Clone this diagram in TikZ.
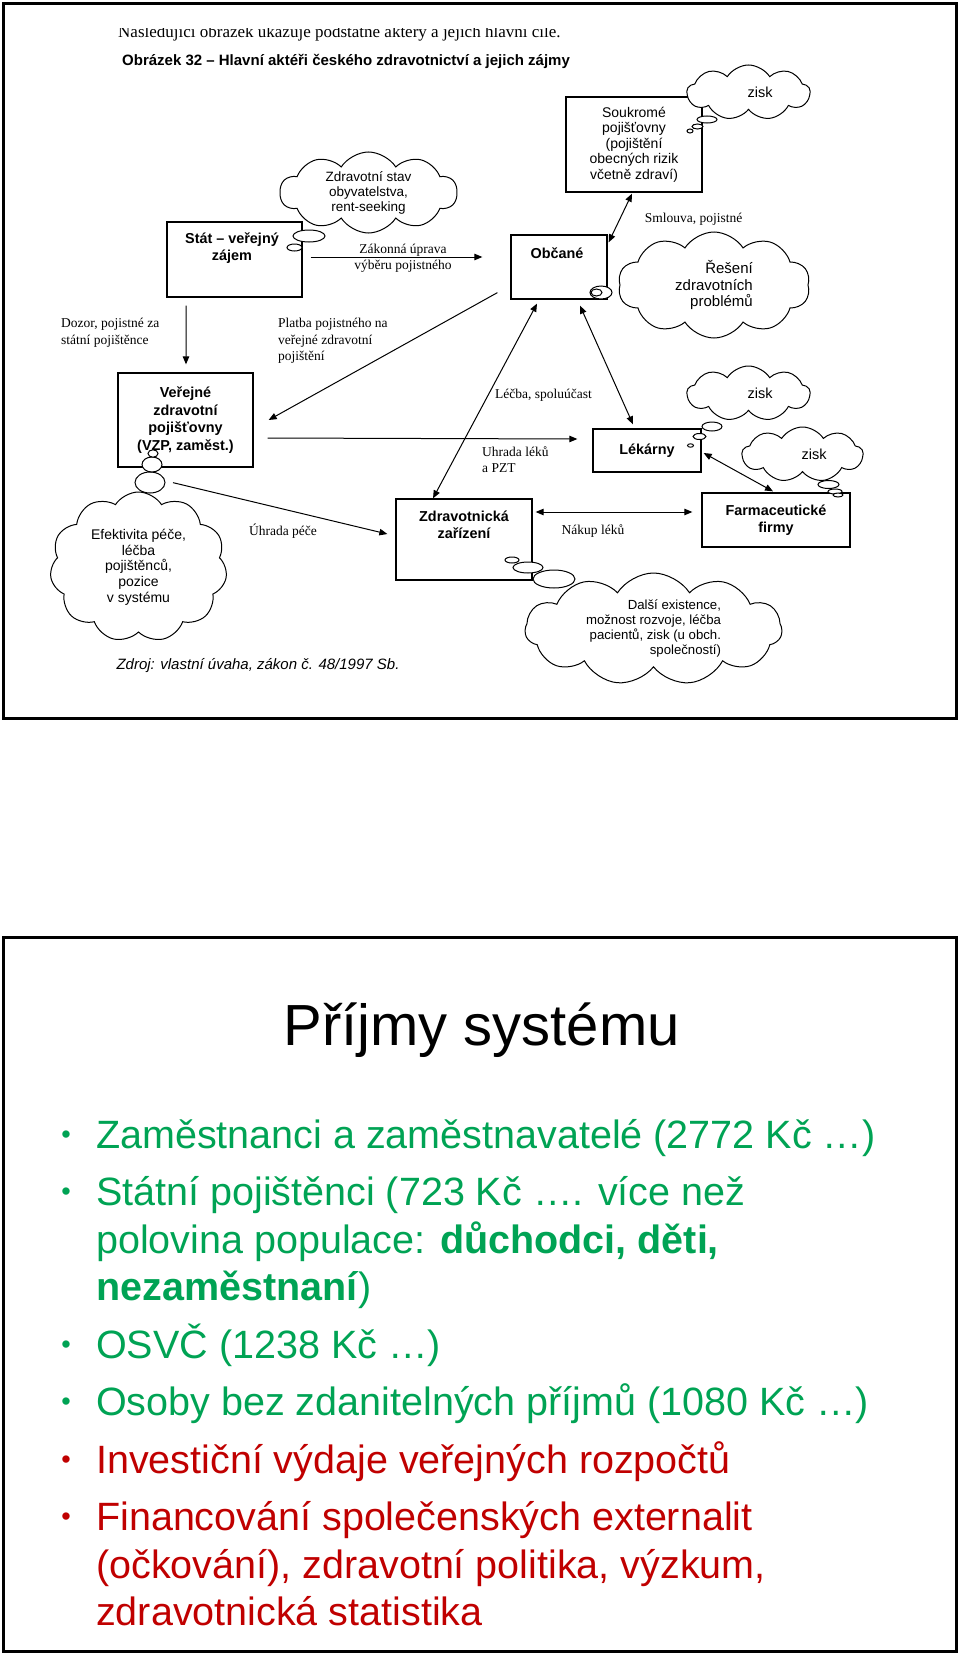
\documentclass[tikz,border=0pt]{standalone}
\usepackage{fontspec}
\setmainfont{Liberation Serif}
\setsansfont{Liberation Sans}
\usetikzlibrary{shapes.symbols,arrows.meta,calc}

\definecolor{slidegreen}{RGB}{0,163,84}
\definecolor{slidered}{RGB}{192,0,0}

\tikzset{
  actor/.style={draw, line width=1.3bp, inner sep=0pt},
  actortext/.style={font=\sffamily\bfseries\fontsize{14.4bp}{17.5bp}\selectfont, align=center, inner sep=0pt},
  think/.style={cloud, draw, fill=white, line width=1bp, cloud puffs=10, cloud puff arc=115,
    cloud ignores aspect, inner sep=0pt, align=center, font=\sffamily\fontsize{13.5bp}{15bp}\selectfont},
  ziskcloud/.style={think, cloud puffs=9, text width=48bp, align=right,
    font=\sffamily\fontsize{14.5bp}{16bp}\selectfont, minimum width=123bp, minimum height=55bp},
  bubble/.style={draw, fill=white, line width=1bp},
  flow/.style={font=\rmfamily\fontsize{13.5bp}{16.5bp}\selectfont, inner sep=0pt},
  arr/.style={-{Triangle[length=8bp,width=6.5bp]}, line width=1bp},
  darr/.style={{Triangle[length=8bp,width=6.5bp]}-{Triangle[length=8bp,width=6.5bp]}, line width=1bp},
  bulletline/.style={font=\sffamily\fontsize{39.5bp}{47.5bp}\selectfont, anchor=base west, inner sep=0pt},
  bulletmark/.style={font=\sffamily\fontsize{27bp}{27bp}\selectfont, anchor=base, inner sep=0pt},
}

\begin{document}
\begin{tikzpicture}[x=1bp, y=-1bp]
\useasboundingbox (0,0) rectangle (960,1654);

% frames of both pages
\draw[line width=3bp] (3.5,3.5) rectangle (956.5,718.5);
\draw[line width=3bp] (3.5,937.5) rectangle (956.5,1651);

% heading of the scanned page
\begin{scope}
  \clip (0,28.5) rectangle (960,50);
  \node[anchor=base west, inner sep=0pt, font=\rmfamily\fontsize{17bp}{20bp}\selectfont] (intro) at (118,37.5)
    {Následující obrázek ukazuje podstatné aktéry a jejich hlavní cíle.};
\end{scope}
\node[anchor=base west, inner sep=0pt, font=\sffamily\bfseries\fontsize{15bp}{18bp}\selectfont] (caption) at (122,66)
  {Obrázek 32 – Hlavní aktéři českého zdravotnictví a jejich zájmy};

% actors
\node[actor, minimum width=135bp, minimum height=75bp] (stat) at (234.5,259.5) {};
\node[actortext] (stattext) at (232,248) {Stát – veřejný\\zájem};
\node[actor, minimum width=96bp, minimum height=64bp] (obcane) at (559,267) {};
\node[actortext] (obcanetext) at (557,253) {Občané};
\node[actor, minimum width=136bp, minimum height=95bp, align=center,
  font=\sffamily\fontsize{14bp}{15.5bp}\selectfont] (soukrome) at (634,144.5)
  {Soukromé\\pojišťovny\\(pojištění\\obecných rizik\\včetně zdraví)};
\node[actor, actortext, minimum width=135bp, minimum height=94bp] (verejne) at (185.5,420)
  {Veřejné\\zdravotní\\pojišťovny\\(VZP, zaměst.)};
\node[actor, actortext, minimum width=108bp, minimum height=43bp] (lekarny) at (647,450.5) {Lékárny};
\node[actor, minimum width=136bp, minimum height=81bp] (zarizeni) at (464,539.5) {};
\node[actortext] (zarizenitext) at (464,525) {Zdravotnická\\zařízení};
\node[actor, actortext, minimum width=148bp, minimum height=54bp] (farma) at (776,520) {Farmaceutické\\firmy};

% interests
\node[think, minimum width=177bp, minimum height=81bp] (stav) at (368.5,192.5)
  {Zdravotní stav\\obyvatelstva,\\rent-seeking};
\node[ziskcloud] (zisktop) at (748.5,92.5) {zisk};
\node[think, minimum width=192bp, minimum height=106bp, align=right,
  font=\sffamily\fontsize{15bp}{16.5bp}\selectfont] (reseni) at (714,285)
  {Řešení\\zdravotních\\problémů};
\node[think, cloud puffs=11, minimum width=177bp, minimum height=150bp,
  font=\sffamily\fontsize{14bp}{15.7bp}\selectfont] (efekt) at (138.5,567)
  {Efektivita péče,\\léčba\\pojištěnců,\\pozice\\v systému};
\node[ziskcloud] (ziskmid) at (748.5,393.5) {zisk};
\node[ziskcloud, minimum width=121bp] (ziskfarma) at (802.5,454.5) {zisk};
\node[think, cloud puffs=11, minimum width=257bp, minimum height=112bp, align=right,
  font=\sffamily\fontsize{13.2bp}{15bp}\selectfont] (dalsi) at (653.5,629)
  {Další existence,\\možnost rozvoje, léčba\\pacientů, zisk (u obch.\\společností)};

% thought bubbles
\draw[bubble] (309,236) ellipse [x radius=16bp, y radius=6bp];
\draw[bubble] (294.5,247.5) ellipse [x radius=7.5bp, y radius=3.5bp];
\draw[bubble] (707,119.5) ellipse [x radius=10bp, y radius=3.5bp];
\draw[bubble] (697.5,126.5) ellipse [x radius=5.5bp, y radius=2.5bp];
\draw[bubble] (690,131) ellipse [x radius=3bp, y radius=2bp];
\draw[bubble] (601,292.5) ellipse [x radius=11bp, y radius=6.5bp];
\draw[bubble] (596.5,292.5) ellipse [x radius=5.5bp, y radius=3.5bp];
\draw[bubble] (150,482.5) ellipse [x radius=15bp, y radius=10.5bp];
\draw[bubble] (152,464.5) ellipse [x radius=10bp, y radius=7.5bp];
\draw[bubble] (153,453.5) ellipse [x radius=5bp, y radius=3.7bp];
\draw[bubble] (712,426.5) ellipse [x radius=10bp, y radius=4.5bp];
\draw[bubble] (699.5,436.5) ellipse [x radius=6.5bp, y radius=3bp];
\draw[bubble] (690.5,445.5) ellipse [x radius=3bp, y radius=1.7bp];
\draw[bubble] (828.5,484.5) ellipse [x radius=10.5bp, y radius=4bp];
\draw[bubble] (835,491.5) ellipse [x radius=7bp, y radius=2.5bp];
\draw[bubble] (838,495) ellipse [x radius=5bp, y radius=2bp];
\draw[bubble] (554,579) ellipse [x radius=21bp, y radius=9bp];
\draw[bubble] (528,567.5) ellipse [x radius=15bp, y radius=5.5bp];
\draw[bubble] (512,560) ellipse [x radius=7bp, y radius=3bp];

% flows
\draw[arr] ($(stat.east)+(8,-2.5)$) -- ($(obcane.west)+(-28,-10)$);
\draw[arr] ($(stat.south)+(-48.5,8)$) -- ($(verejne.north)+(0.5,-8)$);
\draw[arr] ($(obcane.south west)+(-13,-7)$) -- ($(verejne.east)+(15,0)$);
\draw[arr] ($(verejne.east)+(14,18)$) -- ($(lekarny.west)+(-15,-11.5)$);
\draw[arr] ($(verejne.south)+(-12.5,15)$) -- ($(zarizeni.west)+(-8,-5.5)$);
\draw[darr] ($(obcane.south)+(-22,4)$) -- ($(zarizeni.north)+(-31,0)$);
\draw[darr] ($(obcane.south)+(21,6)$) -- ($(lekarny.north)+(-14,-4)$);
\draw[darr] ($(obcane.north east)+(1,8)$) -- ($(soukrome.south)+(-2,1)$);
\draw[darr] ($(zarizeni.east)+(3,-27.5)$) -- ($(farma.west)+(-9,-8)$);
\draw[darr] ($(lekarny.east)+(2,2.5)$) -- ($(farma.north)+(-3,-1)$);

\node[flow, anchor=west, align=left] (dozor) at (61,332.5) {Dozor, pojistné za\\státní pojištěnce};
\node[flow, anchor=west, align=left] (platba) at (278,341) {Platba pojistného na\\veřejné zdravotní\\pojištění};
\node[flow, align=center] (zakonna) at (403,258.5) {Zákonná úprava\\výběru pojistného};
\node[flow, anchor=west] (lecba) at (495,395) {Léčba, spoluúčast};
\node[flow, anchor=west, align=left] (uhradaleku) at (482,459.5) {Uhrada léků\\a PZT};
\node[flow] (uhradapece) at (283,531) {Úhrada péče};
\node[flow] (nakup) at (593,531) {Nákup léků};
\node[flow] (smlouva) at (693.5,219) {Smlouva, pojistné};

\node[inner sep=0pt, font=\sffamily\itshape\fontsize{15bp}{18bp}\selectfont] (zdroj) at (258,666)
  {Zdroj: vlastní úvaha, zákon č. 48/1997 Sb.};

% slide
\node[anchor=base, inner sep=0pt, font=\sffamily\fontsize{58bp}{64bp}\selectfont] (title) at (481.5,1045) {Příjmy systému};

\begin{scope}[every node/.append style={text=slidegreen}]
  \node[bulletmark] (b1) at (66,1143) {•};
  \node[bulletline] (l1) at (96,1148) {Zaměstnanci a zaměstnavatelé (2772 Kč …)};
  \node[bulletmark] (b2) at (66,1200.5) {•};
  \node[bulletline] (l2) at (96,1205.5) {Státní pojištěnci (723 Kč …. více než};
  \node[bulletline] (l3) at (96,1253) {polovina populace: \textbf{důchodci, děti,}};
  \node[bulletline] (l4) at (96,1300.5) {\textbf{nezaměstnaní})};
  \node[bulletmark] (b3) at (66,1353) {•};
  \node[bulletline] (l5) at (96,1358) {OSVČ (1238 Kč …)};
  \node[bulletmark] (b4) at (66,1410.5) {•};
  \node[bulletline] (l6) at (96,1415.5) {Osoby bez zdanitelných příjmů (1080 Kč …)};
\end{scope}
\begin{scope}[every node/.append style={text=slidered}]
  \node[bulletmark] (b5) at (66,1468) {•};
  \node[bulletline] (l7) at (96,1473) {Investiční výdaje veřejných rozpočtů};
  \node[bulletmark] (b6) at (66,1525.5) {•};
  \node[bulletline] (l8) at (96,1530.5) {Financování společenských externalit};
  \node[bulletline] (l9) at (96,1578) {(očkování), zdravotní politika, výzkum,};
  \node[bulletline] (l10) at (96,1625.5) {zdravotnická statistika};
\end{scope}
\end{tikzpicture}
\end{document}
